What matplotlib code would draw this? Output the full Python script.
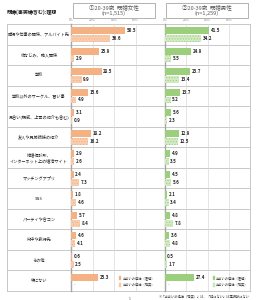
import numpy as np
import matplotlib
matplotlib.use("Agg")
import matplotlib.pyplot as plt
from matplotlib.patches import Rectangle

plt.rcParams["font.family"] = ["Noto Sans CJK JP", "DejaVu Sans"]
plt.rcParams["hatch.linewidth"] = 0.45

# ── data ──
categories = [
    "職場や仕事の関係、アルバイト先",
    "幼なじみ、隣人関係",
    "学校",
    "学校以外のサークル、習い事",
    "見合い(親戚、上司の紹介も含む)",
    "友人や兄弟姉妹の紹介",
    "結婚相談所、\nインターネット上の婚活サイト",
    "マッチングアプリ",
    "SNS",
    "パーティや合コン",
    "街中や旅行先",
    "その他",
    "特にない",
]
women_ideal = [50.5, 25.9, 28.5, 15.6, 3.1, 18.2, 2.9, 2.4, 1.8, 5.7, 4.6, 0.6, 25.3]
women_real = [36.6, 2.9, 9.9, 4.9, 0.9, 16.2, 2.6, 7.3, 4.6, 8.4, 4.1, 2.5, None]
men_ideal = [41.5, 24.9, 23.7, 13.7, 5.6, 12.9, 4.9, 4.5, 2.1, 4.8, 3.6, 0.5, 27.4]
men_real = [34.2, 5.5, 13.4, 5.2, 2.3, 12.5, 3.5, 5.6, 3.4, 7.8, 4.8, 1.7, None]
panel_titles = ["①20-39歳  既婚女性\n(n=1,515)", "②20-39歳  既婚男性\n(n=1,259)"]
legend_labels = ["出会いの経緯（理想）", "出会いの経緯（現実）"]
tick_vals = [0, 20, 40, 60]

W, H = 261, 300
fig = plt.figure(figsize=(W / 100, H / 100), dpi=100)


def px_box(x0, y0, x1, y1):
    return [x0 / W, 1 - y1 / H, (x1 - x0) / W, (y1 - y0) / H]


n = len(categories)
grid_c = "#BFBFBF"
txt_c = "#404040"

# background frame with row separators and labels
bg = fig.add_axes(px_box(7, 24, 250, 291))
bg.set_xlim(0, 1)
bg.set_ylim(n, 0)
bg.set_xticks([])
bg.set_yticks([])
for s in bg.spines.values():
    s.set_color(grid_c)
    s.set_linewidth(0.6)
for i in range(1, n):
    bg.axhline(i, color=grid_c, lw=0.6)
lab_x = (39 - 7) / (250 - 7)
for i, c in enumerate(categories):
    bg.text(lab_x, i + 0.5, c, ha="center", va="center", fontsize=3.0,
            color="#262626", linespacing=1.3)

panels = [
    (px_box(71, 24, 157, 291), women_ideal, women_real, "#F4B183", "#F8CDAF"),
    (px_box(165, 24, 250, 291), men_ideal, men_real, "#9CCF7C", "#D3EAC5"),
]
box_px = [(73, 3, 155, 18), (166, 3, 248, 18)]

for k, (rect, ideal, real, c1, c2) in enumerate(panels):
    ax = fig.add_axes(rect)
    ax.patch.set_alpha(0)
    ax.set_xlim(0, 80)
    ax.set_ylim(n, 0)
    for s in ["top", "right", "bottom"]:
        ax.spines[s].set_visible(False)
    ax.spines["left"].set_color("#A6A6A6")
    ax.spines["left"].set_linewidth(1.0)
    ax.set_yticks([])
    for g in tick_vals[1:]:
        ax.axvline(g, color="#D9D9D9", lw=0.5, zorder=0)
    ax.xaxis.tick_top()
    ax.set_xticks(tick_vals)
    ax.set_xticklabels([f"{t}%" for t in tick_vals], fontsize=2.3, color="#7F7F7F")
    ax.tick_params(axis="x", length=0, pad=1.2)

    y = np.arange(n)
    ax.barh(y + 0.32, ideal, height=0.34, color=c1, zorder=3)
    real_vals = [0 if v is None else v for v in real]
    ax.barh(y + 0.70, real_vals, height=0.34, color=c2, edgecolor=c1,
            linewidth=0, hatch="......", zorder=3)
    for i in range(n):
        ax.text(ideal[i] + 1.5, i + 0.32, f"{ideal[i]:.1f}", va="center",
                fontsize=3.2, color="#262626", fontweight="bold")
        if real[i] is None:
            ax.text(2.5, i + 0.74, "-", va="center", fontsize=3.0, color=txt_c)
        else:
            ax.text(real[i] + 1.5, i + 0.70, f"{real[i]:.1f}", va="center",
                    fontsize=3.2, color="#262626", fontweight="bold")

    # legend in the last row
    for j, (lab, fc) in enumerate(zip(legend_labels, [c1, c2])):
        yy = n - 1 + 0.38 + j * 0.32
        ax.add_patch(Rectangle((45, yy - 0.1), 1.6, 0.2, facecolor=fc,
                               edgecolor=c1, lw=0.2, zorder=4))
        ax.text(48, yy, lab, va="center", fontsize=2.3, color=txt_c)

    # header box
    bx0, by0, bx1, by1 = box_px[k]
    fig.patches.append(Rectangle((bx0 / W, 1 - by1 / H), (bx1 - bx0) / W,
                                 (by1 - by0) / H, transform=fig.transFigure,
                                 facecolor="white", edgecolor="#A6A6A6", lw=0.6))
    fig.text((bx0 + bx1) / 2 / W, 1 - (by0 + by1) / 2 / H, panel_titles[k],
             ha="center", va="center", fontsize=4.0, color="#595959",
             linespacing=1.0)

fig.text(7 / W, 1 - 12 / H, "既婚(事実婚含む):理想", ha="left", va="center",
         fontsize=3.6, color="#262626", fontweight="bold")
fig.text(250 / W, 1 - 296 / H, "※「出会いの経緯（現実）」は、「特にない」は選択肢にない",
         ha="right", va="center", fontsize=2.3, color=txt_c)
fig.text(130 / W, 1 - 298.5 / H, "36", ha="center", va="center",
         fontsize=1.8, color="#7F7F7F")

fig.savefig("out.png", dpi=100, facecolor="white")
